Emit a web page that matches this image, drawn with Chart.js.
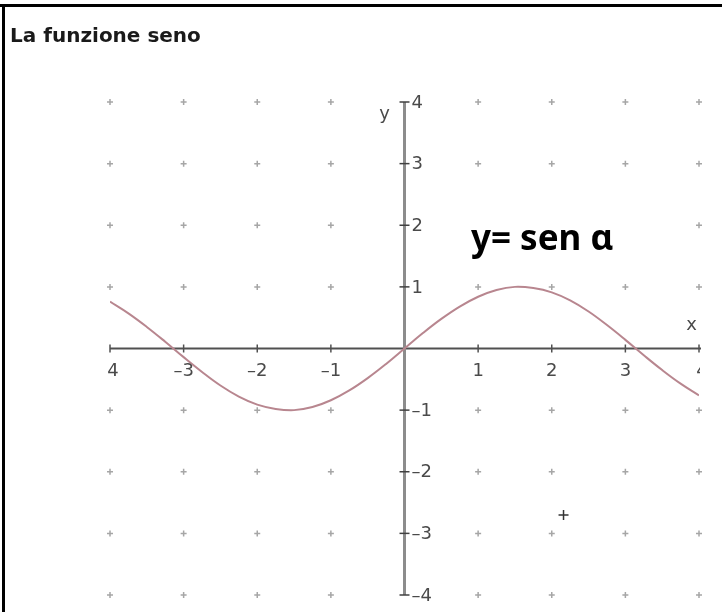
<!DOCTYPE html>
<html>
<head>
  <title>La funzione seno</title>
  <style>
    html, body { margin: 0; padding: 0; background: #fff; }
    canvas { display: block; }
  </style>
</head>
<body>
  <canvas id="senoChart" width="722" height="612"></canvas>

<script src="https://cdn.jsdelivr.net/npm/chart.js"></script>
<script>
  // curve y = sen(alpha), sampled every quarter unit from -4 to 4
  const alphaValues = [-4, -3.75, -3.5, -3.25, -3, -2.75, -2.5, -2.25, -2, -1.75, -1.5, -1.25, -1, -0.75, -0.5, -0.25,
    0, 0.25, 0.5, 0.75, 1, 1.25, 1.5, 1.75, 2, 2.25, 2.5, 2.75, 3, 3.25, 3.5, 3.75, 4];
  const senValues = [0.76, 0.57, 0.35, 0.11, -0.14, -0.38, -0.60, -0.78, -0.91, -0.98, -1.00, -0.95, -0.84, -0.68, -0.48, -0.25,
    0, 0.25, 0.48, 0.68, 0.84, 0.95, 1.00, 0.98, 0.91, 0.78, 0.60, 0.38, 0.14, -0.11, -0.35, -0.57, -0.76];

  // integer lattice of the grid and axis ticks
  const gridSteps = [-4, -3, -2, -1, 0, 1, 2, 3, 4];
  const xTickLabels = ['4', '–3', '–2', '–1', '', '1', '2', '3', '4'];
  const yTickLabels = ['–4', '–3', '–2', '–1', '', '1', '2', '3', '4'];

  // the lone cross mark in the lower right
  const markX = [2.16];
  const markY = [-2.7];

  let curvePoints = [];
  alphaValues.forEach((a, i) => {
    curvePoints.push({x: a, y: senValues[i]});
  });

  let gridPoints = [];
  gridSteps.forEach(gx => {
    gridSteps.forEach(gy => {
      if (gx !== 0 && gy !== 0) {
        gridPoints.push({x: gx, y: gy});
      }
    });
  });

  let markPoints = markX.map((mx, i) => ({x: mx, y: markY[i]}));

  const axisFont = '18px "DejaVu Sans"';

  // draws the two axes with their ticks under the curve
  const axesPlugin = {
    id: 'axesPlugin',
    beforeDatasetsDraw(chart) {
      const ctx = chart.ctx;
      const xs = chart.scales.x;
      const ys = chart.scales.y;
      const x0 = xs.getPixelForValue(0);
      const y0 = ys.getPixelForValue(0);
      const xMin = xs.getPixelForValue(-4);
      const xMax = xs.getPixelForValue(4);
      const yTop = ys.getPixelForValue(4);
      const yBot = ys.getPixelForValue(-4);

      ctx.save();
      // x axis
      ctx.strokeStyle = '#505050';
      ctx.lineWidth = 2;
      ctx.beginPath();
      ctx.moveTo(xMin, y0);
      ctx.lineTo(xMax + 2, y0);
      ctx.stroke();
      ctx.lineWidth = 1.5;
      gridSteps.forEach(v => {
        if (v === 0) return;
        const px = xs.getPixelForValue(v);
        ctx.beginPath();
        ctx.moveTo(px, y0 - 4);
        ctx.lineTo(px, y0 + 4);
        ctx.stroke();
      });

      // y axis
      ctx.strokeStyle = '#8c8c8c';
      ctx.lineWidth = 3;
      ctx.beginPath();
      ctx.moveTo(x0, yTop);
      ctx.lineTo(x0, yBot);
      ctx.stroke();
      ctx.strokeStyle = '#404040';
      ctx.lineWidth = 1.5;
      gridSteps.forEach(v => {
        if (v === 0) return;
        const py = ys.getPixelForValue(v);
        ctx.beginPath();
        ctx.moveTo(x0 - 5, py);
        ctx.lineTo(x0 + 5, py);
        ctx.stroke();
      });
      ctx.restore();
    },
    afterDatasetsDraw(chart) {
      const ctx = chart.ctx;
      const xs = chart.scales.x;
      const ys = chart.scales.y;
      const x0 = xs.getPixelForValue(0);
      const y0 = ys.getPixelForValue(0);

      ctx.save();
      ctx.fillStyle = '#4a4a4a';
      ctx.font = axisFont;

      // x tick labels, the last one runs off the edge of the plot
      ctx.textAlign = 'center';
      ctx.textBaseline = 'middle';
      gridSteps.forEach((v, i) => {
        if (!xTickLabels[i]) return;
        let px = xs.getPixelForValue(v);
        if (v === -4) px += 3;
        if (v === 4) {
          ctx.save();
          ctx.beginPath();
          ctx.rect(0, 0, px + 1, chart.height);
          ctx.clip();
          ctx.fillText(xTickLabels[i], px + 3, y0 + 23);
          ctx.restore();
          return;
        }
        ctx.fillText(xTickLabels[i], px, y0 + 23);
      });

      // y tick labels
      ctx.textAlign = 'left';
      gridSteps.forEach((v, i) => {
        if (!yTickLabels[i]) return;
        ctx.fillText(yTickLabels[i], x0 + 7, ys.getPixelForValue(v) + 1);
      });

      // axis names
      ctx.textAlign = 'center';
      ctx.fillText('x', xs.getPixelForValue(3.9), ys.getPixelForValue(0.37));
      ctx.fillText('y', x0 - 20, ys.getPixelForValue(3.8));

      // function label on a white patch
      ctx.fillStyle = '#ffffff';
      ctx.fillRect(xs.getPixelForValue(0.8), ys.getPixelForValue(2.2), 170, 50);
      ctx.fillStyle = '#000000';
      ctx.textAlign = 'left';
      ctx.textBaseline = 'alphabetic';
      ctx.font = 'bold 35px "Noto Sans"';
      ctx.fillText('y= sen α', 471, 250);
      ctx.restore();
    },
    afterDraw(chart) {
      const ctx = chart.ctx;
      ctx.save();
      // frame
      ctx.fillStyle = '#000000';
      ctx.fillRect(0, 4, chart.width, 3);
      ctx.fillRect(2, 4, 3, chart.height - 4);
      // title
      ctx.font = 'bold 20px "DejaVu Sans"';
      ctx.fillStyle = '#1a1a1a';
      ctx.textAlign = 'left';
      ctx.textBaseline = 'alphabetic';
      ctx.fillText('La funzione seno', 10, 42);
      ctx.restore();
    }
  };

  const ctx = document.getElementById('senoChart');

  new Chart(ctx, {
    type: 'scatter',
    data: {
      datasets: [
        {
          label: 'griglia',
          data: gridPoints,
          pointStyle: 'cross',
          pointRadius: 3,
          borderColor: '#a6a6a6',
          borderWidth: 1.5,
          backgroundColor: '#a6a6a6',
          clip: false
        },
        {
          label: 'segno',
          data: markPoints,
          pointStyle: 'cross',
          pointRadius: 5,
          borderColor: '#333333',
          borderWidth: 1.5
        },
        {
          label: 'y = sen α',
          data: curvePoints,
          showLine: true,
          pointRadius: 0,
          tension: 0.4,
          borderColor: '#b8868f',
          borderWidth: 2,
          fill: false
        }
      ]
    },
    options: {
      responsive: false,
      animation: false,
      devicePixelRatio: 1,
      layout: {
        padding: {left: 110, right: 23, top: 102, bottom: 17}
      },
      plugins: {
        legend: {display: false},
        tooltip: {enabled: false},
        title: {display: false}
      },
      scales: {
        x: {type: 'linear', min: -4, max: 4, display: false},
        y: {type: 'linear', min: -4, max: 4, display: false}
      }
    },
    plugins: [axesPlugin]
  });
</script>
</body>
</html>
